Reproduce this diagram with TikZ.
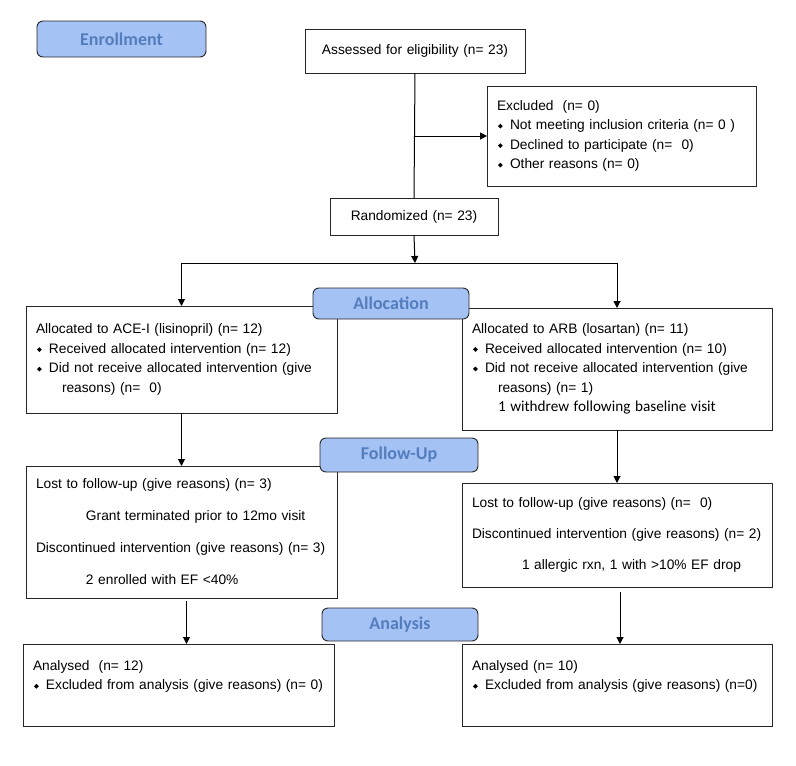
\documentclass[tikz,border=0pt]{standalone}
\usepackage{fontspec}
\setmainfont{Liberation Sans}
\newfontfamily\calibri{Carlito}
\usepackage{graphicx}
\usetikzlibrary{arrows.meta}
\definecolor{labfill}{RGB}{164,194,244}
\definecolor{labtext}{RGB}{84,125,190}
\newcommand{\itm}{\makebox[13pt][l]{\hspace{1pt}\raisebox{1.3pt}{\rotatebox{45}{\rule{3.4pt}{3.4pt}}}}}
\newcommand{\ind}{\hspace*{26pt}}
\tikzset{
  stage/.style={draw=black!85, fill=labfill, rounded corners=6pt, line width=0.9pt,
    font=\calibri\bfseries\fontsize{18}{20}\selectfont, text=labtext,
    inner sep=0pt, outer sep=0pt, anchor=north west},
  box/.style={draw=black!85, line width=1pt, anchor=north west, inner xsep=10pt,
    inner ysep=0pt, outer sep=0pt, align=left, font=\fontsize{13.75}{19.5}\selectfont},
  arr/.style={-{Triangle[length=7pt,width=7pt]}, line width=1pt},
}
\begin{document}
\begin{tikzpicture}[x=1pt, y=-1pt]
        \useasboundingbox (0,0) rectangle (796,766);

        \node[box, align=center, text width=200pt, minimum height=44pt] (assess) at (305,29) {Assessed for eligibility (n= 23)};
        \node[box, text width=249pt, minimum height=100pt] (excl) at (487,86)
          {Excluded~~(n= 0)\\ \itm Not meeting inclusion criteria (n= 0 )\\ \itm Declined to participate (n=~~0)\\ \itm Other reasons (n= 0)};
        \node[box, align=center, text width=148pt, minimum height=37pt] (rand) at (330,198) {Randomized (n= 23)};

        \node[box, text width=291pt, minimum height=107pt] (alcL) at (26,306)
          {Allocated to ACE-I (lisinopril) (n= 12)\\ \itm Received allocated intervention (n= 12)\\ \itm Did not receive allocated intervention (give\\ \ind reasons) (n=~~0)};
        \node[box, text width=290pt, minimum height=122pt] (alcR) at (462,308)
          {Allocated to ARB (losartan) (n= 11)\\ \itm Received allocated intervention (n= 10)\\ \itm Did not receive allocated intervention (give\\ \ind reasons) (n= 1)\\ \ind{\calibri\fontsize{15.2}{19.5}\selectfont 1 withdrew following baseline visit}};

        \node[box, text width=291pt, minimum height=132pt] (fupL) at (26,466)
          {Lost to follow-up (give reasons) (n= 3)\\[12.5pt] \hspace*{50pt}Grant terminated prior to 12mo visit\\[12.5pt] Discontinued intervention (give reasons) (n= 3)\\[12.5pt] \hspace*{50pt}2 enrolled with EF <40\%};
        \node[box, text width=290pt, minimum height=104pt] (fupR) at (462,483)
          {Lost to follow-up (give reasons) (n=~~0)\\[11.5pt] Discontinued intervention (give reasons) (n= 2)\\[11.5pt] \hspace*{50pt}1 allergic rxn, 1 with >10\% EF drop};

        \node[box, text width=291pt, minimum height=82pt] (anaL) at (23,644)
          {Analysed~~(n= 12)\\ \itm Excluded from analysis (give reasons) (n= 0)\\ \mbox{}};
        \node[box, text width=290pt, minimum height=82pt] (anaR) at (462,644)
          {Analysed (n= 10)\\ \itm Excluded from analysis (give reasons) (n=0)\\ \mbox{}};

        \coordinate (split) at (415,263);
        \coordinate (dropL) at ([xshift=5pt]fupL.south);
        \coordinate (dropR) at ([xshift=3pt]fupR.south);
        \draw[line width=1pt] (assess.south) -- (rand.north);
        \draw[arr] (assess.south |- excl.west) -- (excl.west);
        \draw[arr] (rand.south) -- (split);
        \draw[arr] (split) -| (alcL.north);
        \draw[arr] (split) -| (alcR.north);
        \draw[arr] (alcL.south) -- (fupL.north);
        \draw[arr] (alcR.south) -- (fupR.north);
        \draw[arr, shorten <=3pt] (dropL) -- (dropL |- anaL.north);
        \draw[arr, shorten <=5pt] (dropR) -- (dropR |- anaR.north);

        \node[stage, minimum width=169pt, minimum height=36pt] (enrol) at (37,21) {Enrollment};
        \node[stage, minimum width=156pt, minimum height=31pt] (alloc) at (313,288) {Allocation};
        \node[stage, minimum width=158pt, minimum height=34pt] (follow) at (320,438) {Follow-Up};
        \node[stage, minimum width=156pt, minimum height=33pt] (analys) at (322,608) {Analysis};
\end{tikzpicture}
\end{document}
